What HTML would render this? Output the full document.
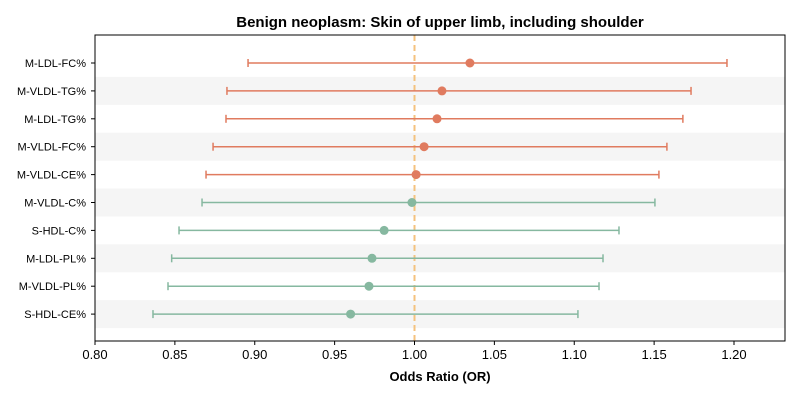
<!DOCTYPE html>
<html><head><meta charset="utf-8"><style>
body{margin:0;background:#fff;font-family:"Liberation Sans","DejaVu Sans",sans-serif}
</style></head><body>
<svg id="chart" width="800" height="400" xmlns="http://www.w3.org/2000/svg">
<text x="440" y="27" text-anchor="middle" font-size="15" font-weight="bold">Benign neoplasm: Skin of upper limb, including shoulder</text>
<g id="bands"></g>
<g id="marks"></g>
<g id="axes"></g>
<text x="440" y="381" text-anchor="middle" font-size="13" font-weight="bold">Odds Ratio (OR)</text>
</svg>
<script>
const labels=["M-LDL-FC%","M-VLDL-TG%","M-LDL-TG%","M-VLDL-FC%","M-VLDL-CE%","M-VLDL-C%","S-HDL-C%","M-LDL-PL%","M-VLDL-PL%","S-HDL-CE%"];
const orValues=[1.0347,1.0172,1.0141,1.006,1.001,0.9984,0.981,0.9734,0.9715,0.960];
const ciLow=[0.8958,0.8826,0.882,0.8739,0.8695,0.867,0.8526,0.848,0.8457,0.8363];
const ciHigh=[1.1956,1.1731,1.168,1.158,1.153,1.1505,1.128,1.118,1.1155,1.1023];
const xTicks=[0.80,0.85,0.90,0.95,1.00,1.05,1.10,1.15,1.20];
const NS="http://www.w3.org/2000/svg";
const L=95,R=785,T=35,B=341;
const xs=v=>L+(v-0.80)/0.4*639;
const step=27.9;
const ys=i=>63+i*step;
function mk(t,a,p){const e=document.createElementNS(NS,t);for(const k in a)e.setAttribute(k,a[k]);p.appendChild(e);return e;}
const bands=document.getElementById('bands'),marks=document.getElementById('marks'),axes=document.getElementById('axes');
labels.forEach((lab,i)=>{
 if(i%2===1){const b=mk('rect',{x:L,y:ys(i)-step/2,width:R-L,height:step,fill:'#f5f5f5'},bands);
 
 }
});
const ref=mk('line',{x1:xs(1),x2:xs(1),y1:T,y2:B,stroke:'#f4c27e','stroke-width':2,'stroke-dasharray':'6,4'},marks);


labels.forEach((lab,i)=>{
 const c=orValues[i]>=1?'#e07b5f':'#86b8a0';const y=ys(i);
 const g=mk('g',{},marks);
 
 
 mk('line',{x1:xs(ciLow[i]),x2:xs(ciHigh[i]),y1:y,y2:y,stroke:c,'stroke-width':1.5},g);
 mk('line',{x1:xs(ciLow[i]),x2:xs(ciLow[i]),y1:y-4,y2:y+4,stroke:c,'stroke-width':1.5},g);
 mk('line',{x1:xs(ciHigh[i]),x2:xs(ciHigh[i]),y1:y-4,y2:y+4,stroke:c,'stroke-width':1.5},g);
 mk('circle',{cx:xs(orValues[i]),cy:y,r:4.5,fill:c},g);
 const t=mk('text',{x:L-9,y:y+4,'text-anchor':'end','font-size':11},axes);t.textContent=lab;
 
 
 mk('line',{x1:L-4,x2:L,y1:y,y2:y,stroke:'#000'},axes);
});
const box=mk('rect',{x:L,y:T,width:R-L,height:B-T,fill:'none',stroke:'#000','stroke-width':1},axes);


xTicks.forEach(v=>{
 mk('line',{x1:xs(v),x2:xs(v),y1:B,y2:B+4,stroke:'#000'},axes);
 const t=mk('text',{x:xs(v),y:B+18,'text-anchor':'middle','font-size':13},axes);t.textContent=v.toFixed(2);
 
 
});
</script>
</body></html>
